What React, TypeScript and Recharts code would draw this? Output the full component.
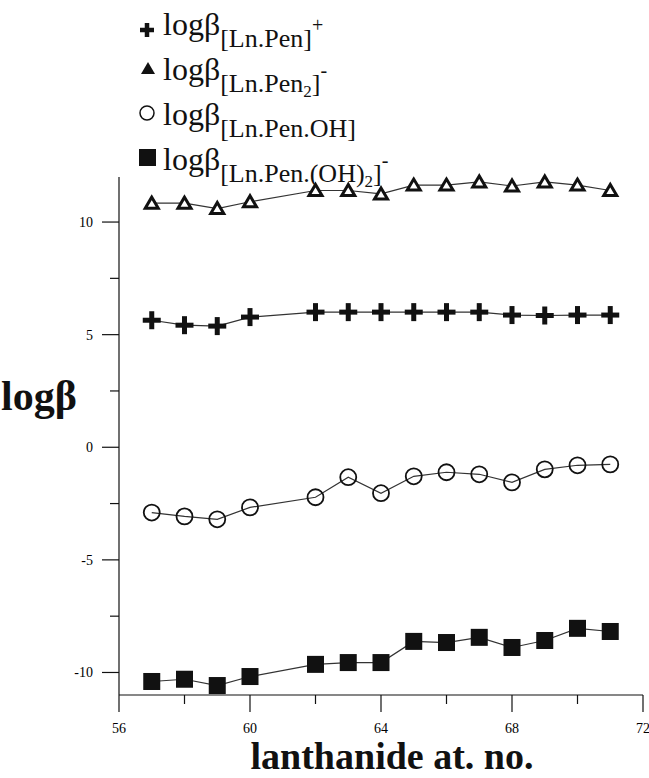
import React from "react";
import { LineChart, Line, XAxis, YAxis } from "recharts";

// lanthanide atomic numbers (no Pm, 61)
const atNo = [57, 58, 59, 60, 62, 63, 64, 65, 66, 67, 68, 69, 70, 71];

// log beta values
const lnPen = [5.64, 5.42, 5.38, 5.78, 6.0, 6.0, 6.0, 6.0, 6.0, 6.0, 5.87, 5.85, 5.87, 5.87];
const lnPen2 = [10.84, 10.84, 10.6, 10.9, 11.4, 11.4, 11.25, 11.64, 11.64, 11.78, 11.6, 11.78, 11.64, 11.4];
const lnPenOH = [-2.9, -3.07, -3.2, -2.67, -2.22, -1.33, -2.04, -1.29, -1.11, -1.2, -1.56, -0.98, -0.8, -0.76];
const lnPenOH2 = [-10.4, -10.3, -10.58, -10.18, -9.64, -9.56, -9.56, -8.62, -8.67, -8.44, -8.89, -8.58, -8.04, -8.18];

const xTicks = [56, 58, 60, 62, 64, 66, 68, 70, 72];
const yTicks = [-10, -7.5, -5, -2.5, 0, 2.5, 5, 7.5, 10];

const rows = atNo.map((z, i) => ({
  z,
  pen: lnPen[i],
  pen2: lnPen2[i],
  oh: lnPenOH[i],
  oh2: lnPenOH2[i],
}));

const SERIF = "'Liberation Serif', 'Times New Roman', serif";
const INK = "#111";

// ---- marker shapes ----
const PlusDot = ({ cx, cy, size = 18, arm = 5 }: any) => (
  <g>
    <rect x={cx - size / 2} y={cy - arm / 2} width={size} height={arm} fill={INK} />
    <rect x={cx - arm / 2} y={cy - size / 2} width={arm} height={size} fill={INK} />
  </g>
);

const TriDot = ({ cx, cy }: any) => (
  <polygon
    points={`${cx},${cy - 6} ${cx - 6.5},${cy + 5} ${cx + 6.5},${cy + 5}`}
    fill="#fff"
    stroke={INK}
    strokeWidth={3}
    strokeLinejoin="miter"
  />
);

const CircDot = ({ cx, cy }: any) => (
  <circle cx={cx} cy={cy} r={8} fill="none" stroke={INK} strokeWidth={1.8} />
);

const SqDot = ({ cx, cy }: any) => (
  <rect x={cx - 8.5} y={cy - 8.5} width={17} height={17} fill={INK} />
);

// ---- axis ticks (major with label, minor without) ----
const XTick = (props: any) => {
  const { x, y, payload } = props;
  const v = payload.value;
  const major = v % 4 === 0;
  return (
    <g>
      <line x1={x} x2={x} y1={y} y2={y + (major ? 17 : 9)} stroke={INK} strokeWidth={1.2} />
      {major && (
        <text x={x} y={y + 38} textAnchor="middle" fontSize={14} fontFamily={SERIF} fill="#000">
          {v}
        </text>
      )}
    </g>
  );
};

const YTick = (props: any) => {
  const { x, y, payload } = props;
  const v = payload.value;
  const major = v % 5 === 0;
  return (
    <g>
      <line x1={x - (major ? 17 : 9)} x2={x} y1={y} y2={y} stroke={INK} strokeWidth={1.2} />
      {major && (
        <text x={x - 26} y={y + 5} textAnchor="end" fontSize={14} fontFamily={SERIF} fill="#000">
          {v}
        </text>
      )}
    </g>
  );
};

// ---- legend drawn over the top-left ----
function LegendBlock() {
  const main = 32;
  const sub = 26;
  const tx = 163;
  return (
    <svg
      width={649}
      height={190}
      style={{ position: "absolute", left: 0, top: 0, pointerEvents: "none" }}
    >
      <PlusDot cx={147} cy={30} size={14} arm={4.5} />
      <text x={tx} y={35} fontFamily={SERIF} fontSize={main} fill={INK}>
        logβ
        <tspan fontSize={sub} dy={12}>[Ln.Pen]</tspan>
        <tspan fontSize={20} dy={-15}>+</tspan>
      </text>

      <polygon points="148,62 141,74 155,74" fill={INK} />
      <text x={tx} y={80} fontFamily={SERIF} fontSize={main} fill={INK}>
        logβ
        <tspan fontSize={sub} dy={12}>[Ln.Pen</tspan>
        <tspan fontSize={17} dy={5}>2</tspan>
        <tspan fontSize={sub} dy={-5}>]</tspan>
        <tspan fontSize={20} dy={-15}>-</tspan>
      </text>

      <circle cx={147} cy={113} r={7} fill="none" stroke={INK} strokeWidth={1.5} />
      <text x={tx} y={125} fontFamily={SERIF} fontSize={main} fill={INK}>
        logβ
        <tspan fontSize={sub} dy={12}>[Ln.Pen.OH]</tspan>
      </text>

      <rect x={139} y={149} width={17} height={17} fill={INK} />
      <text x={tx} y={170} fontFamily={SERIF} fontSize={main} fill={INK}>
        logβ
        <tspan fontSize={sub} dy={12}>[Ln.Pen.(OH)</tspan>
        <tspan fontSize={17} dy={5}>2</tspan>
        <tspan fontSize={sub} dy={-5}>]</tspan>
        <tspan fontSize={20} dy={-15}>-</tspan>
      </text>
    </svg>
  );
}

const lineProps = {
  type: "linear" as const,
  stroke: "#333",
  strokeWidth: 1.2,
  isAnimationActive: false,
  activeDot: false as const,
};

export default function App() {
  return (
    <div style={{ position: "absolute", left: 0, top: 0, width: 649, height: 778, background: "#fff" }}>
      <LineChart
        width={649}
        height={778}
        data={rows}
        margin={{ top: 177, right: 6, left: 0, bottom: 0 }}
      >
        <XAxis
          type="number"
          dataKey="z"
          domain={[56, 72]}
          ticks={xTicks}
          interval={0}
          height={83}
          tickSize={0}
          tickMargin={0}
          tickLine={false}
          tick={<XTick />}
          axisLine={{ stroke: INK, strokeWidth: 1.2 }}
          label={{
            content: (p: any) => (
              <text
                x={p.viewBox.x + p.viewBox.width / 2 + 11}
                y={p.viewBox.y + 74}
                textAnchor="middle"
                fontFamily={SERIF}
                fontWeight="bold"
                fontSize={38}
                fill={INK}
              >
                lanthanide at. no.
              </text>
            ),
          }}
        />
        <YAxis
          type="number"
          domain={[-11, 12]}
          ticks={yTicks}
          interval={0}
          width={119}
          tickSize={0}
          tickMargin={0}
          tickLine={false}
          tick={<YTick />}
          axisLine={{ stroke: INK, strokeWidth: 1.2 }}
          label={{
            content: (p: any) => (
              <text
                x={p.viewBox.x + 1}
                y={410}
                textAnchor="start"
                fontFamily={SERIF}
                fontWeight="bold"
                fontSize={42}
                fill={INK}
              >
                logβ
              </text>
            ),
          }}
        />
        <Line dataKey="pen2" {...lineProps} dot={(p: any) => <TriDot key={`t${p.index}`} {...p} />} />
        <Line dataKey="pen" {...lineProps} dot={(p: any) => <PlusDot key={`p${p.index}`} cx={p.cx} cy={p.cy} />} />
        <Line dataKey="oh" {...lineProps} dot={(p: any) => <CircDot key={`c${p.index}`} {...p} />} />
        <Line dataKey="oh2" {...lineProps} dot={(p: any) => <SqDot key={`s${p.index}`} {...p} />} />
      </LineChart>
      <LegendBlock />
    </div>
  );
}
